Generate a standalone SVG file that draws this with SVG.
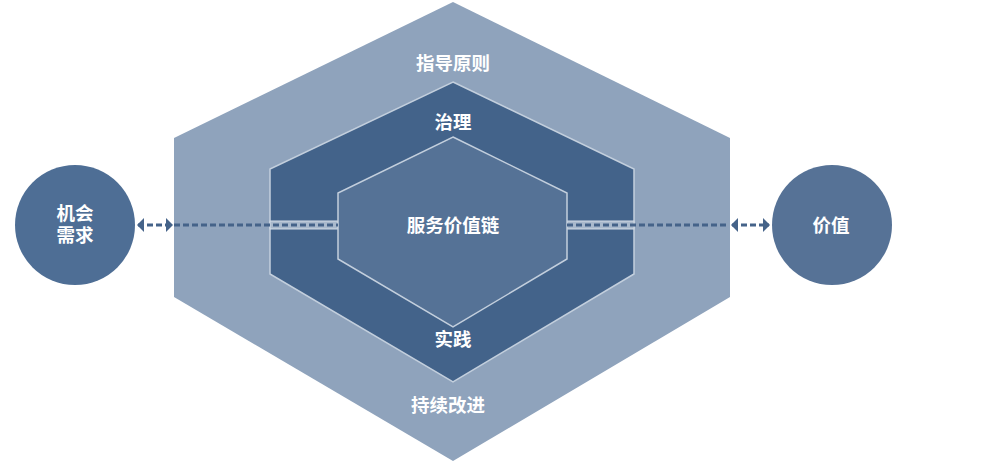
<svg xmlns="http://www.w3.org/2000/svg" width="989" height="471" viewBox="0 0 989 471">
<style>
text{font-family:"Liberation Sans","Noto Sans CJK SC",sans-serif;font-weight:700;fill:#fff;text-anchor:middle}
.l{font-size:18.5px}
.hex{stroke:#c3cfdd;stroke-width:1.5}
.dash{stroke:#456389;stroke-width:3;stroke-dasharray:6 3;fill:none}
</style>
<defs>
<marker id="ah" viewBox="0 0 8 14" refX="7" refY="7" markerWidth="8" markerHeight="14" markerUnits="userSpaceOnUse" orient="auto-start-reverse"><path d="M1 0L8 7L1 14Z" fill="#456389"/></marker>
</defs>
<rect width="989" height="471" fill="#fff"/>
<g id="principles"><polygon points="453,2 730,138 730,297 453,461 174,297 174,138" fill="#8fa3bc"/><text class="l" x="453" y="70">指导原则</text><text class="l" x="448" y="412">持续改进</text></g>
<g id="governance"><polygon class="hex" points="453,82 634,169 634,274 453,382 270,274 270,169" fill="#43638a"/><text class="l" x="453" y="129">治理</text><text class="l" x="453" y="346">实践</text></g>
<rect x="270" y="221" width="68" height="8" fill="#a9b9cc" stroke="#d3dce6"/>
<rect x="567" y="221" width="67" height="8" fill="#a9b9cc" stroke="#d3dce6"/>
<g id="chain"><polygon class="hex" points="453,137 567,193 567,259 453,327 338,259 338,193" fill="#557296"/><text class="l" x="453" y="232">服务价值链</text></g>
<g id="connectors">
<path class="dash" d="M174 225H338"/><path class="dash" d="M567 225H727"/>
<path class="dash" d="M138 225H172" marker-start="url(#ah)" marker-end="url(#ah)"/>
<path class="dash" d="M732 225H769" marker-start="url(#ah)" marker-end="url(#ah)"/>
</g>
<g id="opportunity"><circle cx="75" cy="225" r="60" fill="#4e6e95"/><text class="l" x="75" y="220">机会</text><text class="l" x="75" y="242">需求</text></g>
<g id="value"><circle cx="832" cy="225" r="60" fill="#567296"/><text class="l" x="831" y="232">价值</text></g>
</svg>
